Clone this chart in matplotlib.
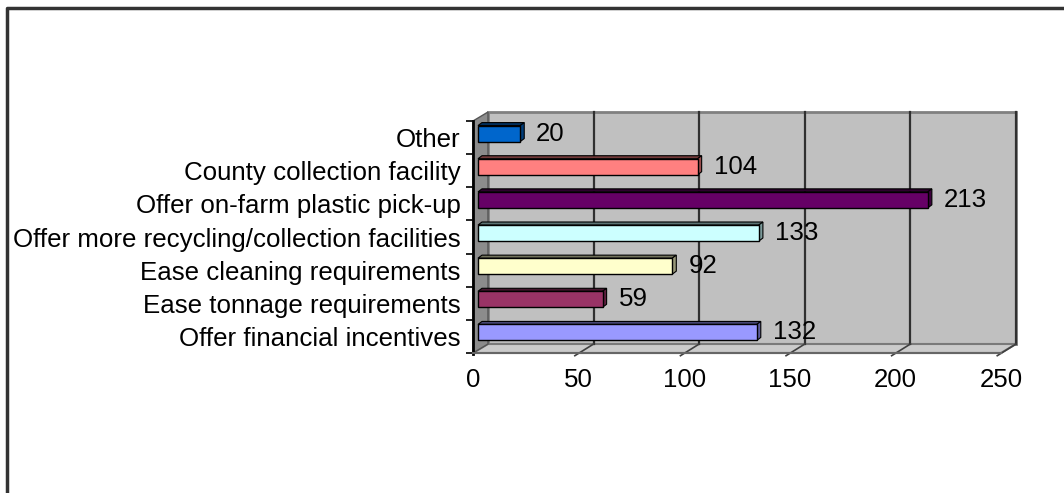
import matplotlib.pyplot as plt
from matplotlib.patches import Polygon, Rectangle
from matplotlib.lines import Line2D
from matplotlib.colors import to_rgb

# chart data (top to bottom as shown)
categories = ["Other", "County collection facility", "Offer on-farm plastic pick-up",
              "Offer more recycling/collection facilities", "Ease cleaning requirements",
              "Ease tonnage requirements", "Offer financial incentives"]
values = [20, 104, 213, 133, 92, 59, 132]
colors = ["#0066CC", "#FF8080", "#660066", "#CCFFFF", "#FFFFCC", "#993366", "#9999FF"]
xticks = [0, 50, 100, 150, 200, 250]

plt.rcParams['font.family'] = ['Liberation Sans', 'DejaVu Sans']
FS = 18.6

W, H = 1064, 493
fig = plt.figure(figsize=(W / 100, H / 100), dpi=100)

# front plane of the pseudo-3d plot, in pixels
L, R, T, B = 473, 1001, 121, 353
ax = fig.add_axes([L / W, 1 - B / H, (R - L) / W, (B - T) / H])
ax.set_xlim(0, 250)
ax.set_ylim(-0.5, 6.5)
ax.set_facecolor("none")
for s in ax.spines.values():
    s.set_visible(False)

pxx = (R - L) / 250.0      # px per x unit
pxy = (B - T) / 7.0        # px per category
dx, dy = 15 / pxx, 9 / pxy   # depth of the box
bx, by = 5 / pxx, 4 / pxy    # bars sit mid-depth
ex, ey = 4 / pxx, 3 / pxy    # bar thickness
bh = 16 / pxy
ylo, yhi = -0.5, 6.5

def poly(pts, fc, ec, lw=1.0, z=1):
    ax.add_patch(Polygon(pts, closed=True, facecolor=fc, edgecolor=ec, lw=lw,
                         zorder=z, clip_on=False, joinstyle="miter"))

# walls
poly([(dx, ylo + dy), (250 + dx, ylo + dy), (250 + dx, yhi + dy), (dx, yhi + dy)],
     "#C0C0C0", "#808080", 2, 1)
poly([(0, ylo), (250, ylo), (250 + dx, ylo + dy), (dx, ylo + dy)],
     "#CBCBCB", "#7a7a7a", 1.5, 1)
poly([(0, ylo), (dx, ylo + dy), (dx, yhi + dy), (0, yhi)],
     "#8C8C8C", "#555555", 1, 2)
ax.add_line(Line2D([0, 0], [ylo - 0.03, yhi], color="black", lw=2, zorder=3, clip_on=False))
ax.add_line(Line2D([0, 250], [ylo, ylo], color="#666666", lw=1.5, zorder=3, clip_on=False))

# gridlines on back wall + floor ticks
for t in xticks[1:]:
    ax.add_line(Line2D([t + dx, t + dx], [ylo + dy, yhi + dy], color="#303030", lw=1.6,
                       zorder=2, clip_on=False))
    ax.add_line(Line2D([t + dx, t - 0.25 * dx], [ylo + dy, ylo - 0.3 * dy], color="#404040",
                       lw=1.2, zorder=2, clip_on=False))

# bars
ypos = list(range(len(categories)))[::-1]
for cat_i, v, c in zip(ypos, values, colors):
    x0, x1 = bx, v + bx
    y0, y1 = cat_i + by - bh / 2, cat_i + by + bh / 2
    rgb = to_rgb(c)
    dark = tuple(ch * 0.45 for ch in rgb)
    side = tuple(ch * 0.6 for ch in rgb)
    poly([(x0, y1), (x1, y1), (x1 + ex, y1 + ey), (x0 + ex, y1 + ey)], dark, "black", 0.8, 4)
    poly([(x1, y0), (x1 + ex, y0 + ey), (x1 + ex, y1 + ey), (x1, y1)], side, "black", 0.8, 4)
    ax.add_patch(Rectangle((x0, y0), v, bh, facecolor=c, edgecolor="black", lw=1.0,
                           zorder=5, clip_on=False))
    ax.annotate(str(v), xy=(x1 + ex, cat_i + by), xytext=(12, 0), textcoords="offset pixels",
                ha="left", va="center", fontsize=FS, color="black", zorder=6)

# axes ticks and labels
ax.set_yticks(ypos)
ax.set_yticklabels(categories, fontsize=FS)
ax.set_yticks([k - 0.5 for k in range(8)], minor=True)
ax.tick_params(axis="y", which="major", length=0, pad=9)
ax.tick_params(axis="y", which="minor", length=5, width=1.2, color="black", direction="out")
ax.set_xticks(xticks)
ax.set_xticklabels([str(t) for t in xticks], fontsize=FS)
ax.tick_params(axis="x", length=0, pad=11)

# outer chart border (cut off at right and bottom)
fig.add_artist(Line2D([7 / W, 7 / W, 1.0], [0.0, 1 - 8 / H, 1 - 8 / H],
                      transform=fig.transFigure, color="#333333", lw=2.5))

fig.savefig("out.png", dpi=100)
